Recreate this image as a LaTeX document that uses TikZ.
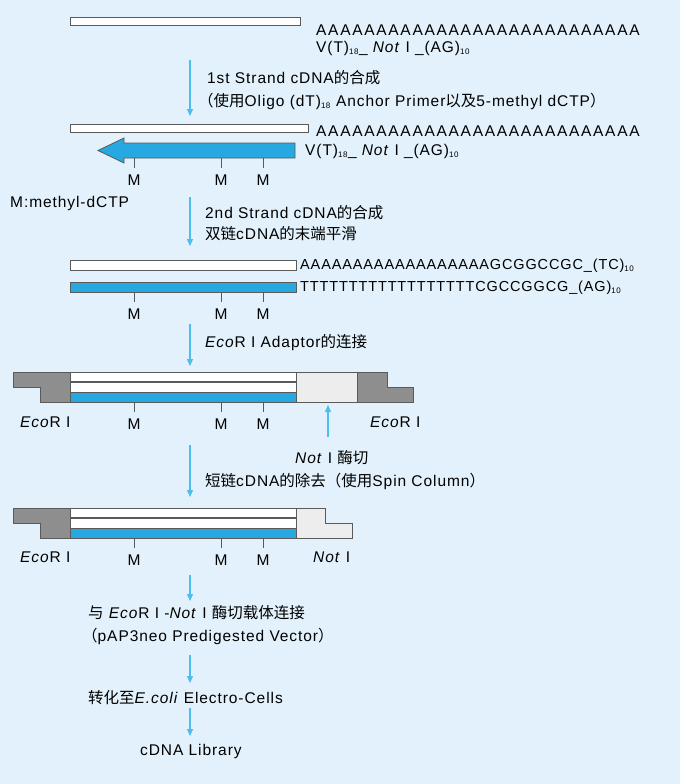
\documentclass[tikz,border=0pt]{standalone}
\usepackage{fontspec}
\setmainfont{Liberation Sans}[LetterSpace=6]
\newfontfamily\cjk{Noto Sans CJK SC}
\usetikzlibrary{arrows.meta}
\definecolor{bg}{HTML}{E2F1FB}
\definecolor{strandblue}{HTML}{27A8E0}
\definecolor{arrblue}{HTML}{4FBDEB}
\definecolor{dgray}{HTML}{8E8E8E}
\definecolor{lgray}{HTML}{EDEDED}
\definecolor{edge}{HTML}{5A5A5A}
\newcommand{\sbs}[1]{\textsubscript{\fontsize{8}{9}\selectfont #1}}
\newcommand{\zh}[1]{{\cjk #1}}
\begin{document}
\begin{tikzpicture}[x=1pt,y=-1pt,
  lbl/.style={inner sep=0pt,anchor=west,font=\fontsize{15.5}{17}\selectfont},
  seq/.style={inner sep=0pt,anchor=west,font=\fontsize{14.5}{16}\selectfont},
  aseq/.style={inner sep=0pt,anchor=west,font=\fontsize{15.5}{17}\selectfont\addfontfeature{LetterSpace=11}},
  wstrand/.style={draw=edge,fill=white,line width=0.8pt},
  bstrand/.style={draw=edge,fill=strandblue,line width=0.8pt},
  dadapt/.style={draw=edge,fill=dgray,line width=0.8pt},
  ladapt/.style={draw=edge,fill=lgray,line width=0.8pt},
  flow/.style={draw=arrblue,line width=1.2pt,-{Triangle[length=7pt,width=6pt]}},
  tick/.style={draw=edge,line width=0.8pt}]
\fill[bg] (0,0) rectangle (680,784);
\useasboundingbox (0,0) rectangle (680,784);
\newcommand{\ticks}[2]{\foreach \xx/\nn in {134/a,221/b,263/c}{\draw[tick] (\xx,#1) -- (\xx,#1+10); \node[lbl,anchor=center] (#2\nn) at (\xx,#1+22) {M};}}
% row 1
\draw[wstrand] (70,17) rectangle (300,25);
\node[aseq] (r1a) at (316,30) {AAAAAAAAAAAAAAAAAAAAAAAAAAA};
\node[lbl] (r1b) at (316,48) {V(T)\sbs{18}\_ \textit{Not} I \_(AG)\sbs{10}};
\coordinate (a1s) at (190,60); \coordinate (a1e) at (190,116);
\draw[flow] (a1s) -- (a1e);
\node[lbl] (t1) at (207,78) {1st Strand cDNA\zh{的合成}};
\node[lbl] (t1b) at (198,101) {\zh{（使用}Oligo (dT)\sbs{18} Anchor Primer\zh{以及}5-methyl dCTP\zh{）}};
% row 2
\draw[wstrand] (70,124) rectangle (308,132);
\draw[bstrand] (295,143) -- (295,158) -- (124,158) -- (124,163) -- (98,150.5) -- (124,138) -- (124,143) -- cycle;
\node[aseq] (r2a) at (316,131) {AAAAAAAAAAAAAAAAAAAAAAAAAAA};
\node[lbl] (r2b) at (305,151) {V(T)\sbs{18}\_ \textit{Not} I \_(AG)\sbs{10}};
\ticks{158}{m2}
\node[lbl] (meth) at (10,203) {M:methyl-dCTP};
\coordinate (a2s) at (190,197); \coordinate (a2e) at (190,246);
\draw[flow] (a2s) -- (a2e);
\node[lbl] (t2) at (205,213) {2nd Strand cDNA\zh{的合成}};
\node[lbl] (t2b) at (205,234) {\zh{双链}cDNA\zh{的末端平滑}};
% row 3
\draw[wstrand] (70,260) rectangle (296,270);
\draw[bstrand] (70,282) rectangle (296,292);
\node[seq] (r3a) at (300,266) {AAAAAAAAAAAAAAAAAAGCGGCCGC\_(TC)\sbs{10}};
\node[seq] (r3b) at (300,288) {TTTTTTTTTTTTTTTTTTCGCCGGCG\_(AG)\sbs{10}};
\ticks{292}{m3}
\coordinate (a3s) at (190,324); \coordinate (a3e) at (190,366);
\draw[flow] (a3s) -- (a3e);
\node[lbl] (t3) at (205,343) {\textit{Eco}R I Adaptor\zh{的连接}};
% row 4
\draw[dadapt] (13,372) -- (70,372) -- (70,402) -- (40,402) -- (40,387) -- (13,387) -- cycle;
\draw[wstrand] (70,372) rectangle (296,381);
\draw[wstrand] (70,382) rectangle (296,392);
\draw[bstrand] (70,392) rectangle (296,402);
\draw[ladapt] (296,372) rectangle (357,402);
\draw[dadapt] (357,372) -- (387,372) -- (387,387) -- (413,387) -- (413,402) -- (357,402) -- cycle;
\ticks{402}{m4}
\node[lbl] (e4l) at (20,422) {\textit{Eco}R I};
\node[lbl] (e4r) at (370,422) {\textit{Eco}R I};
\coordinate (cuts) at (328,437); \coordinate (cute) at (328,405);
\draw[flow] (cuts) -- (cute);
\node[lbl] (t4) at (295,458) {\textit{Not} I \zh{酶切}};
\node[lbl] (t4b) at (205,481) {\zh{短链}cDNA\zh{的除去（使用}Spin Column\zh{）}};
\coordinate (a4s) at (190,445); \coordinate (a4e) at (190,497);
\draw[flow] (a4s) -- (a4e);
% row 5
\draw[dadapt] (13,508) -- (70,508) -- (70,538) -- (40,538) -- (40,523) -- (13,523) -- cycle;
\draw[wstrand] (70,508) rectangle (296,517);
\draw[wstrand] (70,518) rectangle (296,528);
\draw[bstrand] (70,528) rectangle (296,538);
\draw[ladapt] (296,508) -- (325,508) -- (325,523) -- (352,523) -- (352,538) -- (296,538) -- cycle;
\ticks{538}{m5}
\node[lbl] (e5l) at (20,557) {\textit{Eco}R I};
\node[lbl] (n5r) at (313,557) {\textit{Not} I};
\coordinate (a5s) at (190,575); \coordinate (a5e) at (190,601);
\draw[flow] (a5s) -- (a5e);
\node[lbl] (t5) at (88,613) {\zh{与} \textit{Eco}R I -\textit{Not} I \zh{酶切载体连接}};
\node[lbl] (t5b) at (82,636) {\zh{（}pAP3neo Predigested Vector\zh{）}};
\coordinate (a6s) at (190,655); \coordinate (a6e) at (190,683);
\draw[flow] (a6s) -- (a6e);
\node[lbl] (t6) at (88,698) {\zh{转化至}\textit{E.coli} Electro-Cells};
\coordinate (a7s) at (190,708); \coordinate (a7e) at (190,736);
\draw[flow] (a7s) -- (a7e);
\node[lbl] (t7) at (140,751) {cDNA Library};
\end{tikzpicture}
\end{document}
